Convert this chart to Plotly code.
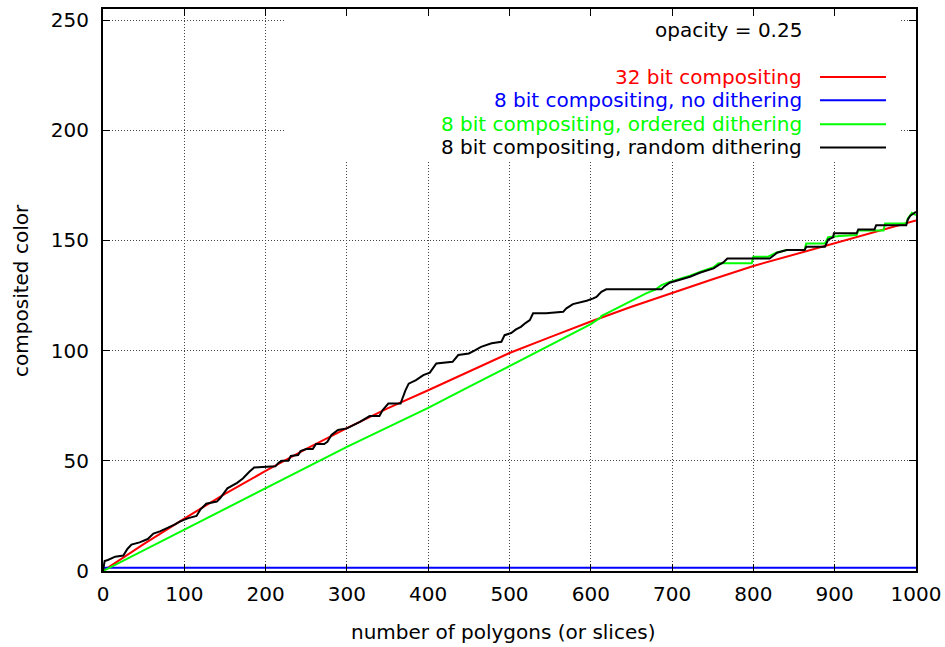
import plotly.graph_objects as go

# ---- data ----
red_x = [0, 50, 100, 150, 200, 250, 300, 350, 400, 450, 500, 550, 600, 650, 700, 750, 800, 850, 900, 950, 1000]
red_y = [0, 12.2, 23.8, 35.0, 45.4, 55.4, 64.8, 73.8, 82.0, 90.6, 98.9, 106.1, 113.2, 119.9, 126.3, 132.4, 138.4, 143.6, 148.9, 153.8, 159.0]

blue_x = [0, 1000]
blue_y = [1.5, 1.5]

green_x = [0, 50, 100, 150, 200, 250, 300, 350, 400, 450, 500, 550, 600, 612, 613, 625, 640, 654, 668, 680,
           687, 697, 710, 722, 735, 751, 757, 798, 800, 818, 822, 828, 841, 863, 865, 888, 892, 906, 927, 929,
           960, 962, 988, 990, 995, 1000]
green_y = [0, 9.4, 18.9, 28.2, 37.5, 47.0, 56.3, 65.2, 74.0, 83.5, 93.0, 102.5, 112.0, 115.0, 115.7, 117.9, 120.7, 123.4, 126.0, 127.8,
           129.7, 131.2, 132.5, 134.0, 135.8, 137.8, 139.6, 139.6, 142.6, 142.6, 143.3, 144.4, 145.6, 145.6, 148.6, 148.6, 151.5, 152.0, 152.4, 154.5,
           154.5, 157.7, 157.7, 160.0, 162.5, 161.5]

black_x = [0, 1, 2, 6, 15, 25, 30, 35, 45, 55, 62, 70, 80, 88, 95, 105, 115, 120, 127, 140,
           144, 148, 153, 165, 172, 180, 186, 212, 216, 220, 228, 231, 240, 243, 250, 258, 262, 272, 276, 281,
           289, 300, 306, 316, 328, 340, 344, 351, 366, 372, 376, 385, 394, 402, 410, 430, 437, 450, 458, 465,
           478, 490, 494, 502, 508, 514, 520, 525, 529, 545, 566, 570, 578, 595, 603, 607, 613, 619, 687, 690,
           697, 707, 722, 734, 751, 757, 763, 768, 820, 826, 829, 841, 863, 865, 888, 892, 898, 899, 927, 929,
           949, 951, 988, 990, 993, 997, 1000]
black_y = [0, 2, 4.5, 5, 6.5, 7, 10, 12, 13, 14.5, 17, 18, 19.5, 21, 22.5, 24, 25, 28, 30.5, 31.5,
           33, 35.2, 37.5, 40, 42, 45, 47, 47.5, 49.1, 50, 50, 52.2, 52.6, 54.4, 55.3, 55.3, 57.6, 57.6, 58.6, 61.7,
           64, 64.7, 65.8, 67.7, 70.3, 70.3, 73, 76, 76, 82, 85, 86.6, 88.9, 90, 94.2, 94.9, 98, 98.7, 100.2, 101.7,
           103.3, 104, 107, 108, 109.6, 110.8, 112.6, 113.8, 116.9, 116.9, 117.6, 119.2, 121.1, 122.6, 123.7, 124.4, 126.7, 127.8, 127.8, 129,
           130.8, 132, 133.5, 135.3, 137.3, 138.8, 140, 141.8, 141.8, 143.5, 144.4, 145.6, 145.6, 147.1, 147.1, 150.4, 151.4, 153.2, 153.2, 155,
           155, 156.9, 156.9, 159.5, 161.2, 162.2, 163]

x_ticks = [0, 100, 200, 300, 400, 500, 600, 700, 800, 900, 1000]
y_ticks = [0, 50, 100, 150, 200, 250]

series_names = ["32 bit compositing", "8 bit compositing, no dithering",
                "8 bit compositing, ordered dithering", "8 bit compositing, random dithering"]
series_colors = ["#ff0000", "#0000ff", "#00ff00", "#000000"]

FONT = "DejaVu Sans"
FS = 20

fig = go.Figure()
for xs, ys, name, col in zip([red_x, blue_x, green_x, black_x], [red_y, blue_y, green_y, black_y],
                             series_names, series_colors):
    fig.add_trace(go.Scatter(x=xs, y=ys, mode="lines", name=name,
                             line=dict(color=col, width=2), showlegend=False))

# key area blanks grid (like gnuplot key box)
fig.add_shape(type="rect", xref="x", yref="y", x0=225, x1=981, y0=186, y1=255,
              fillcolor="white", line=dict(width=0), layer="between")

# custom legend: right-aligned text, sample line on the right (positions in plot-fraction units)
text_x = 0.8622
line_x0, line_x1 = 0.8819, 0.9631
rows_y = [0.8792, 0.8378, 0.7951, 0.7537]
for name, col, ry in zip(series_names, series_colors, rows_y):
    fig.add_annotation(text=name, xref="paper", yref="paper", x=text_x, y=ry,
                       xanchor="right", yanchor="middle", showarrow=False,
                       font=dict(family=FONT, size=FS, color=col))
    fig.add_shape(type="line", xref="paper", yref="paper", x0=line_x0, x1=line_x1, y0=ry, y1=ry,
                  line=dict(color=col, width=2))

fig.add_annotation(text="opacity = 0.25", xref="paper", yref="paper", x=text_x, y=0.9623,
                   xanchor="right", yanchor="middle", showarrow=False,
                   font=dict(family=FONT, size=FS, color="black"))

# axis titles
fig.add_annotation(text="number of polygons (or slices)", xref="paper", yref="paper", x=0.4919, y=-0.1085,
                   xanchor="center", yanchor="middle", showarrow=False,
                   font=dict(family=FONT, size=FS, color="black"))
fig.add_annotation(text="composited color", xref="paper", yref="paper", x=-0.1011, y=0.4998,
                   xanchor="center", yanchor="middle", showarrow=False, textangle=-90,
                   font=dict(family=FONT, size=FS, color="black"))

axis_common = dict(showline=True, linecolor="black", linewidth=2, mirror="ticks",
                   ticks="inside", ticklen=7, tickwidth=1, tickcolor="black",
                   showgrid=True, gridcolor="#444444", gridwidth=1, griddash="1px,2px",
                   zeroline=False, automargin=False,
                   tickfont=dict(family=FONT, size=FS, color="black"))

fig.update_xaxes(range=[0, 1000], tickvals=x_ticks, ticktext=[str(v) for v in x_ticks],
                 ticklabelstandoff=4, **axis_common)
fig.update_yaxes(range=[0, 255], tickvals=y_ticks, ticktext=[str(v) for v in y_ticks],
                 ticklabelstandoff=8, **axis_common)

fig.update_layout(width=945, height=647, autosize=False, margin=dict(l=103, r=29, t=9, b=76, pad=0),
                  plot_bgcolor="white", paper_bgcolor="white", showlegend=False)

fig.write_html("out.html", config={"responsive": False})
